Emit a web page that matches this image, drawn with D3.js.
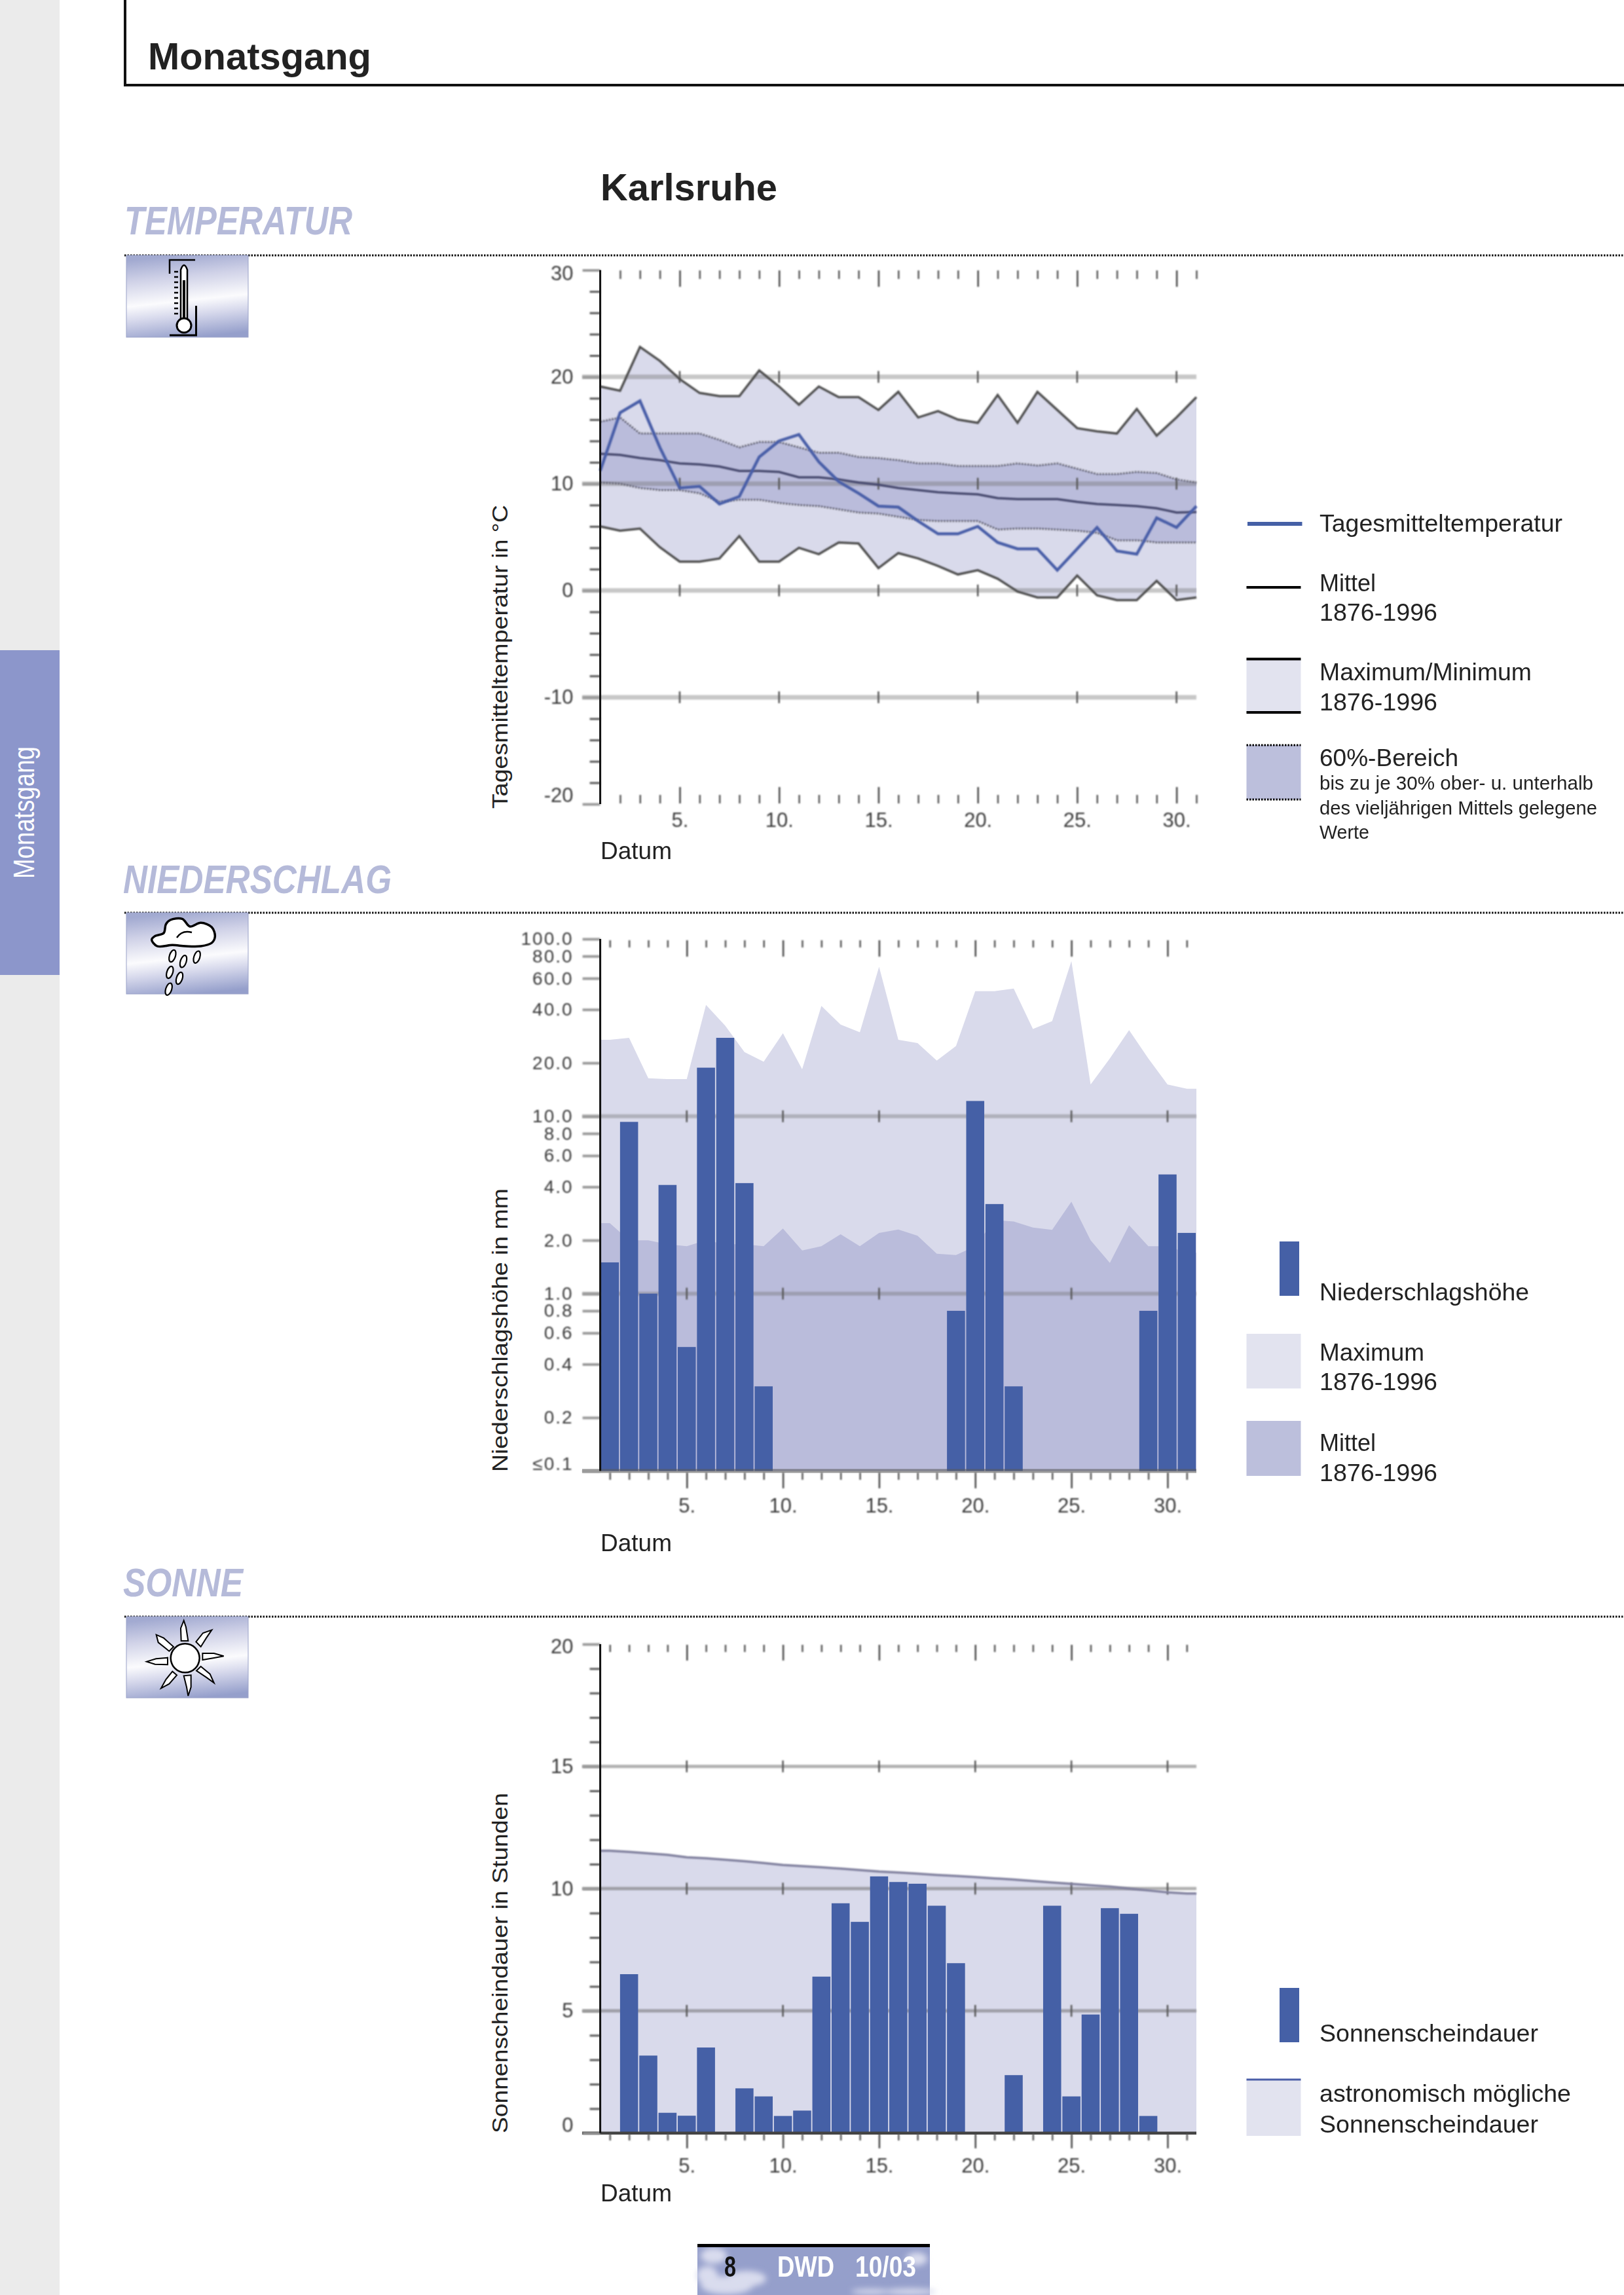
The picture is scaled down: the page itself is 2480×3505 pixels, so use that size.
<!DOCTYPE html>
<html><head><meta charset="utf-8">
<script src="https://cdn.jsdelivr.net/npm/d3@7"></script>
<style>
html,body{margin:0;padding:0;background:#fff}
svg{display:block}
text{font-family:"Liberation Sans",Arial,sans-serif}
</style></head><body>
<svg id="page" width="2480" height="3505" viewBox="0 0 2480 3505"></svg>
<script>
// ---------- data ----------
const days = d3.range(1,32);
const tempMax = [19.1,18.7,22.8,21.5,19.8,18.5,18.2,18.2,20.6,19.1,17.4,19.1,18.1,18.1,16.9,18.6,16.2,16.8,16.0,15.7,18.3,15.7,18.6,16.9,15.2,14.9,14.7,17.0,14.5,16.2,18.1];
const tempMin = [6.0,5.6,5.8,4.05,2.7,2.7,3.0,5.1,2.7,2.7,4.0,3.4,4.5,4.4,2.1,3.5,3.0,2.3,1.5,1.9,1.1,-0.1,-0.65,-0.65,1.4,-0.45,-0.9,-0.9,0.9,-0.9,-0.65];
const tempDaily = [11.2,16.65,17.75,13.4,9.6,9.75,8.1,8.8,12.5,14.0,14.6,12.05,10.2,9.1,7.9,7.8,6.5,5.3,5.3,6.0,4.5,3.9,3.9,1.9,3.9,5.9,3.7,3.4,6.8,5.9,7.9];
const tempMean = [12.8,12.7,12.4,12.2,11.9,11.8,11.6,11.2,11.2,11.1,10.6,10.6,10.4,10.1,9.9,9.6,9.4,9.2,9.1,9.0,8.65,8.55,8.55,8.55,8.3,8.1,8.0,7.9,7.7,7.3,7.35];
const temp60Up = [15.8,16.2,14.7,14.7,14.7,14.7,14.1,13.4,13.9,13.9,13.4,12.9,12.9,12.5,12.4,12.2,11.9,11.9,11.65,11.65,11.65,11.9,11.7,11.9,11.4,10.9,10.9,11.1,11.0,10.4,10.1];
const temp60Lo = [10.1,10.0,9.6,9.4,9.4,9.1,8.3,8.5,8.5,8.2,8.0,7.9,7.6,7.3,7.2,6.9,6.6,6.5,6.5,6.5,5.7,5.8,5.8,5.7,5.6,5.4,4.7,4.7,4.5,4.5,4.5];
const tempTicks = [30,20,10,0,-10,-20];
const tempMinor = [28,26,24,22,18,16,14,12,8,6,4,2,-2,-4,-6,-8,-12,-14,-16,-18];
const tempGrid = [20,10,0,-10];

const precip = [1.5,9.3,1.0,4.1,0.5,18.8,27.7,4.2,0.3,0,0,0,0,0,0,0,0,0,0.8,12.2,3.2,0.3,0,0,0,0,0,0,0.8,4.7,2.2];
const precipMax = [27,27.7,16.4,16.2,16.2,42.5,32.4,23,20.3,29.4,18.4,41.9,32.9,29.8,69.7,27,25.9,20.6,24.9,50.8,50.8,52.5,31.1,34.4,75,15.1,21.2,30.6,21.2,15.1,14.3];
const precipMean = [2.5,2.0,2.0,1.9,1.85,2.0,1.9,1.9,1.85,2.33,1.75,1.85,2.16,1.85,2.2,2.3,2.12,1.68,1.65,1.85,2.6,2.55,2.36,2.29,3.3,2.0,1.49,2.43,1.85,1.85,1.7];
const precipTicks = [100,80,60,40,20,10,8,6,4,2,1,0.8,0.6,0.4,0.2,0.1];
const precipGrid = [10,1];

const sun = [0,6.5,3.17,0.83,0.71,3.5,0,1.83,1.5,0.7,0.92,6.4,9.4,8.64,10.5,10.27,10.2,9.3,6.95,0,0,2.37,0,9.3,1.5,4.85,9.2,8.97,0.7,0,0];
const sunAstro = [11.55,11.5,11.44,11.38,11.28,11.24,11.18,11.12,11.05,10.97,10.92,10.87,10.82,10.76,10.7,10.66,10.61,10.56,10.52,10.47,10.42,10.37,10.31,10.25,10.2,10.14,10.08,10.0,9.93,9.85,9.8];
const sunTicks = [20,15,10,5,0];
const sunMinor = [19,18,17,16,14,13,12,11,9,8,7,6,4,3,2,1];
const sunGrid = [15,10,5];

const dayMajor = [5,10,15,20,25,30];
const legendTemp = ["Tagesmitteltemperatur","Mittel","1876-1996","Maximum/Minimum","60%-Bereich","bis zu je 30% ober- u. unterhalb","des vieljährigen Mittels gelegene","Werte"];

// ---------- colours ----------
const cBar="#4560a6", cMax="#d9daeb", c60="#babcdb", cLeg1="#e2e3ef", cLeg2="#bcbfdc", cHead="#b5bad9", cTick="#555";
const axisX=916.6, axisR=1827;

const svg=d3.select("#page");
const defs=svg.append("defs");
const soft=defs.append("filter").attr("id","soft").attr("filterUnits","userSpaceOnUse").attr("x",0).attr("y",0).attr("width",2480).attr("height",3505);
soft.append("feGaussianBlur").attr("stdDeviation",0.8);

const txt=(s,x,y,size,o={})=>{
  const t=svg.append("text").attr("x",x).attr("y",y).attr("font-size",size).attr("fill",o.fill||"#222").text(s);
  if(o.weight)t.attr("font-weight",o.weight);
  if(o.style)t.attr("font-style",o.style);
  if(o.len)t.attr("textLength",o.len).attr("lengthAdjust",o.adj||"spacingAndGlyphs");
  if(o.family)t.style("font-family",o.family);
  if(o.rot)t.attr("transform",`rotate(-90 ${x} ${y})`);
  return t;
};
const rect=(p,x,y,w,h,f)=>p.append("rect").attr("x",x).attr("y",y).attr("width",w).attr("height",h).attr("fill",f);
const hline=(x1,x2,y,w,c,dash,parent)=>{const l=(parent||svg).append("line").attr("x1",x1).attr("x2",x2).attr("y1",y).attr("y2",y).attr("stroke",c).attr("stroke-width",w);if(dash)l.attr("stroke-dasharray",dash);return l;};
// the blur sits on an untranslated wrapper, so its page-sized region stays on the page
const softG=()=>svg.append("g").attr("filter","url(#soft)");

// ---------- page furniture ----------
rect(svg,0,0,91,3505,"#ebebeb");
rect(svg,0,993,91,496,"#8c96cb");
txt("Monatsgang",52,1342,44,{fill:"#fff",len:202,rot:true,family:'"Liberation Sans Narrow","Liberation Sans"'});
svg.append("path").attr("d","M191 0V130H2480").attr("fill","none").attr("stroke","#111").attr("stroke-width",4);
txt("Monatsgang",226,106,58,{weight:"bold",len:341});
txt("Karlsruhe",917,306,58,{weight:"bold",len:270});
txt("TEMPERATUR",190,358,61,{weight:"bold",style:"italic",fill:cHead,len:348});
txt("NIEDERSCHLAG",188,1364,61,{weight:"bold",style:"italic",fill:cHead,len:410});
txt("SONNE",188,2438,61,{weight:"bold",style:"italic",fill:cHead,len:183});
[390,1394,2469].forEach(y=>hline(190,2480,y,3,"#111","2.5 2"));

// icon backgrounds
const grad=defs.append("linearGradient").attr("id","ig").attr("x1","0.42").attr("y1","0").attr("x2","0.58").attr("y2","1");
[[0,"#a2aad1"],[.25,"#cfd1e7"],[.55,"#fbfbfd"],[.72,"#d7d9ec"],[1,"#959fcb"]].forEach(s=>grad.append("stop").attr("offset",s[0]).attr("stop-color",s[1]));
[[390,125],[1394,124],[2469,124]].forEach(a=>rect(svg,193,a[0],186,a[1],"url(#ig)").attr("stroke","#9aa2c8").attr("stroke-width",1));

// thermometer
const th=svg.append("g").attr("fill","none").attr("stroke","#000");
th.append("path").attr("d","M298 397H259V418").attr("stroke-width",2.5);
th.append("path").attr("d","M259 512H299.5V467").attr("stroke-width",3);
th.append("path").attr("d","M276 488V412Q281 398 286 412V488").attr("fill","#fff").attr("stroke-width",2.5);
th.append("line").attr("x1",281).attr("x2",281).attr("y1",428).attr("y2",488).attr("stroke-width",4);
th.append("circle").attr("cx",281).attr("cy",497).attr("r",11).attr("fill","#fff").attr("stroke-width",3);
d3.range(9).forEach(i=>th.append("line").attr("x1",266).attr("x2",272).attr("y1",415+i*8).attr("y2",415+i*8).attr("stroke-width",2.5));

// cloud + drops (positions given in the 3x crop, mapped onto the page)
const cp=(x,y)=>[150+x/3,1290+y/3];
const cloud=[[245,435],[262,418],[300,405],[310,365],[330,345],[385,340],[420,375],[470,358],[520,378],[535,420],[520,450],[470,465],[400,465],[340,460],[270,465]].map(p=>cp(p[0],p[1]));
svg.append("path").attr("d",d3.line().curve(d3.curveCatmullRomClosed)(cloud)).attr("fill","#fff").attr("stroke","#000").attr("stroke-width",3.5);
svg.append("path").attr("d","M270 1432Q278 1420 293 1424").attr("fill","none").attr("stroke","#000").attr("stroke-width",2.5);
[[340,510],[390,535],[452,515],[328,585],[372,612],[323,662]].forEach(p=>{const c=cp(p[0],p[1]);
 svg.append("ellipse").attr("cx",c[0]).attr("cy",c[1]).attr("rx",4.5).attr("ry",9.5).attr("transform",`rotate(18 ${c[0]} ${c[1]})`).attr("fill","#fff").attr("stroke","#000").attr("stroke-width",2.2);});

// sun
const sp=(x,y)=>[150+x/3,2370+y/3];
const c0=sp(398,487);
svg.append("circle").attr("cx",c0[0]).attr("cy",c0[1]).attr("r",22).attr("fill","#fff").attr("stroke","#000").attr("stroke-width",2.5);
[[[392,315],[378,350],[380,408],[412,408],[402,345]],
 [[520,358],[480,372],[448,412],[470,435],[495,395]],
 [[575,478],[530,465],[478,465],[478,495],[535,485]],
 [[530,600],[512,560],[470,525],[450,545],[495,575]],
 [[412,660],[425,620],[425,565],[392,568],[405,620]],
 [[288,625],[325,605],[360,565],[340,548],[310,585]],
 [[222,503],[265,490],[318,485],[318,517],[260,515]],
 [[266,380],[275,415],[325,455],[345,435],[300,395]]].forEach(r=>{
  svg.append("path").attr("d",d3.line()(r.map(p=>sp(p[0],p[1])))+"Z").attr("fill","#fff").attr("stroke","#000").attr("stroke-width",2);
 });

// ---------- helpers for the charts ----------
function yAxis(scale,majors,minors,fmt,offs,size,spacing){
  const a=softG().append("g").attr("transform",`translate(${axisX},0)`);
  if(minors&&minors.length){
    const m=a.append("g").call(d3.axisLeft(scale).tickValues(minors).tickSize(16).tickFormat(""));
    m.select(".domain").remove();
    m.selectAll("line").attr("stroke",cTick).attr("stroke-width",3);
  }
  const g=a.append("g").call(d3.axisLeft(scale).tickValues(majors).tickSize(27).tickPadding(14).tickFormat(fmt));
  g.select(".domain").remove();
  g.selectAll("line").attr("stroke","#9a9a9a").attr("stroke-width",4);
  g.selectAll("text").attr("font-size",size).attr("letter-spacing",spacing).attr("fill","#3a3a3a").style("font-family",'"Liberation Sans"')
    .attr("y",d=>(offs&&offs.has(d))?offs.get(d):0);
  return a;
}
function yLine(scale){
  const r=scale.range();
  svg.append("line").attr("x1",axisX).attr("x2",axisX).attr("y1",Math.min(r[0],r[1])).attr("y2",Math.max(r[0],r[1])).attr("stroke","#111").attr("stroke-width",3);
}
function dayAxis(scale,y,dir,minLen,majLen,ds){
  const all=ds.filter(d=>!dayMajor.includes(d));
  const gen=dir>0?d3.axisBottom:d3.axisTop;
  const a=softG().append("g").attr("transform",`translate(0,${y})`);
  const m=a.append("g").call(gen(scale).tickValues(all).tickSize(minLen).tickFormat(""));
  m.select(".domain").remove(); m.selectAll("line").attr("stroke",cTick).attr("stroke-width",2.5);
  const j=a.append("g").call(gen(scale).tickValues(dayMajor).tickSize(majLen).tickFormat(""));
  j.select(".domain").remove(); j.selectAll("line").attr("stroke","#444").attr("stroke-width",2.5);
}
function dayLabels(scale,y){
  const g=softG().append("g").attr("transform",`translate(0,${y})`).call(d3.axisBottom(scale).tickValues(dayMajor).tickSize(0).tickPadding(0).tickFormat(d=>d+"."));
  g.select(".domain").remove();
  g.selectAll("text").attr("y",0).attr("dy",0).attr("font-size",31).attr("fill","#3a3a3a").style("font-family",'"Liberation Sans"');
}
function grid(scale,vals,xs,w,c,tickLen){
  const g=softG();
  vals.forEach(v=>{
    hline(889,axisR,scale(v),w,c,null,g);
    dayMajor.forEach(d=>g.append("line").attr("x1",xs(d)).attr("x2",xs(d)).attr("y1",scale(v)-tickLen).attr("y2",scale(v)+tickLen).attr("stroke","#555").attr("stroke-width",2.5));
  });
}
function bars(vals,scale,base,xs){
  const w=xs(1.5)-xs(0.5);
  svg.append("g").selectAll("rect").data(days.filter(d=>vals[d-1]>0)).join("rect")
    .attr("x",d=>xs(d-0.5)+0.9).attr("width",w-1.8)
    .attr("y",d=>scale(vals[d-1])).attr("height",d=>base-scale(vals[d-1])).attr("fill",cBar);
}
const softPath=(d,c,w,dash)=>{const p=svg.append("path").attr("d",d).attr("fill","none").attr("stroke",c).attr("stroke-width",w).attr("filter","url(#soft)");if(dash)p.attr("stroke-dasharray",dash);return p;};
// areas in the band charts run flat out to the plot edges
const withEdges=a=>[{d:0.5,v:a[0]}].concat(days.map(d=>({d,v:a[d-1]})),[{d:31.5,v:a[30]}]);

// ---------- temperature ----------
const xT=d3.scaleLinear().domain([1,31]).range([axisX,axisR]);
const yT=d3.scaleLinear().domain([-20,30]).range([1228,412.5]);
const band=(hi,lo)=>d3.area().x(d=>xT(d)).y0(d=>yT(lo[d-1])).y1(d=>yT(hi[d-1]))(days);
const ln=a=>d3.line().x(d=>xT(d)).y(d=>yT(a[d-1]))(days);
svg.append("path").attr("d",band(tempMax,tempMin)).attr("fill",cMax);
svg.append("path").attr("d",band(temp60Up,temp60Lo)).attr("fill",c60);
grid(yT,tempGrid,xT,7,"rgba(110,110,110,.38)",9);
softPath(ln(tempMax),"#505050",3.5);
softPath(ln(tempMin),"#505050",3.5);
softPath(ln(temp60Up),"#5f5f6d",3,"2.5 2");
softPath(ln(temp60Lo),"#5f5f6d",3,"2.5 2");
softPath(ln(tempMean),"#474a6e",3.5);
softPath(ln(tempDaily),"#4a5ea8",4.5);
yAxis(yT,tempTicks,tempMinor,d=>String(d),new Map([[30,5],[-20,-13]]),31,0);
yLine(yT);
dayAxis(xT,413,1,13,25,days.slice(1));
dayAxis(xT,1227,-1,13,25,days.slice(1));
dayLabels(xT,1263);

// ---------- precipitation ----------
const xP=d3.scaleLinear().domain([0.5,31.5]).range([axisX,axisR]);
const yP=d3.scaleLog().domain([0.1,100]).range([2246.5,1434]);
const bandP=a=>d3.area().x(d=>xP(d.d)).y0(yP(0.1)).y1(d=>yP(d.v))(withEdges(a));
svg.append("path").attr("d",bandP(precipMax)).attr("fill",cMax);
svg.append("path").attr("d",bandP(precipMean)).attr("fill",c60);
grid(yP,precipGrid,xP,6,"rgba(110,110,110,.38)",9);
bars(precip,yP,yP(0.1),xP);
hline(889,axisR,yP(0.1),6,"rgba(90,90,90,.6)");
yAxis(yP,precipTicks,[],d=>d===0.1?"≤0.1":d3.format(".1f")(d),new Map([[0.1,-11]]),28,2);
yLine(yP);
dayAxis(xP,1436,1,11,25,days);
dayAxis(xP,2249,1,11,24,days);
dayLabels(xP,2310);

// ---------- sunshine ----------
const yS=d3.scaleLinear().domain([0,20]).range([3257.7,2511]);
svg.append("path").attr("d",d3.area().x(d=>xP(d.d)).y0(yS(0)).y1(d=>yS(d.v))(withEdges(sunAstro))).attr("fill",cMax);
grid(yS,sunGrid,xP,5,"rgba(100,100,100,.5)",9);
softPath(d3.line().x(d=>xP(d.d)).y(d=>yS(d.v))(withEdges(sunAstro)),"#80809e",3.5);
bars(sun,yS,yS(0),xP);
hline(889,axisR,yS(0),4.5,"#444");
yAxis(yS,sunTicks,sunMinor,d=>String(d),new Map([[20,4],[0,-12]]),31,0);
yLine(yS);
dayAxis(xP,2512,1,11,24,days);
dayAxis(xP,3259,1,10,22,days);
dayLabels(xP,3318);

// ---------- axis titles ----------
txt("Tagesmitteltemperatur in °C",775,1235,34,{rot:true,len:464});
txt("Niederschlagshöhe in mm",775,2248,34,{rot:true,len:433});
txt("Sonnenscheindauer in Stunden",775,3258,34,{rot:true,len:520});
[1312,2369,3362].forEach(y=>txt("Datum",917,y,36,{len:109}));

// ---------- legends ----------
const L=2015;
hline(1905,1988.5,800,6,cBar);
txt(legendTemp[0],L,812,37,{len:371});
hline(1903.5,1986.5,897,4,"#000");
txt(legendTemp[1],L,903,37,{len:86});
txt(legendTemp[2],L,947.5,37,{len:180});
rect(svg,1903.5,1006.5,83,81.5,cLeg1);
hline(1903.5,1986.5,1006.5,4,"#000");hline(1903.5,1986.5,1088,4,"#000");
txt(legendTemp[3],L,1039,37,{len:324});
txt(legendTemp[2],L,1085,37,{len:180});
rect(svg,1903.5,1138,83,83,cLeg2);
hline(1903.5,1986.5,1138,3,"#000","2.5 2");hline(1903.5,1986.5,1221,3,"#000","2.5 2");
txt(legendTemp[4],L,1170,37,{len:212});
txt(legendTemp[5],L,1206,30,{len:418});
txt(legendTemp[6],L,1244,30,{len:424});
txt(legendTemp[7],L,1281,30,{len:76});

rect(svg,1954,1896,30,83,cBar);
txt("Niederschlagshöhe",L,1986,37,{len:320});
rect(svg,1903.5,2037,83,83.5,cLeg1);
txt("Maximum",L,2078,37,{len:160});
txt(legendTemp[2],L,2123,37,{len:180});
rect(svg,1903.5,2170,83,84,cLeg2);
txt("Mittel",L,2216,37,{len:86});
txt(legendTemp[2],L,2261.5,37,{len:180});

rect(svg,1954,3036,30,83,cBar);
txt("Sonnenscheindauer",L,3118,37,{len:334});
rect(svg,1903.5,3176,83,86,cLeg1);
hline(1903.5,1986.5,3176,3,"#4a5ea8");
txt("astronomisch mögliche",L,3210,37,{len:384});
txt("Sonnenscheindauer",L,3257,37,{len:334});

// ---------- footer ----------
rect(svg,1065,3430,355,75,"#959fcb");
const blur=defs.append("filter").attr("id","cl").attr("x","-30%").attr("y","-30%").attr("width","160%").attr("height","160%");
blur.append("feGaussianBlur").attr("stdDeviation",5);
const cl=svg.append("g").attr("filter","url(#cl)").attr("fill","#d9dcee");
[[1090,3445,20,12],[1110,3490,40,14],[1140,3480,30,12],[1080,3475,16,14],[1400,3450,16,10],[1390,3500,40,5],[1330,3500,30,4]].forEach(e=>cl.append("ellipse").attr("cx",e[0]).attr("cy",e[1]).attr("rx",e[2]).attr("ry",e[3]));
rect(svg,1065,3427,355,5,"#000");
txt("8",1106,3477,44,{weight:"bold",fill:"#111",len:18});
txt("DWD",1187,3477,44,{weight:"bold",fill:"#fff",len:87});
txt("10/03",1306,3477,44,{weight:"bold",fill:"#fff",len:93});
</script>
</body></html>
